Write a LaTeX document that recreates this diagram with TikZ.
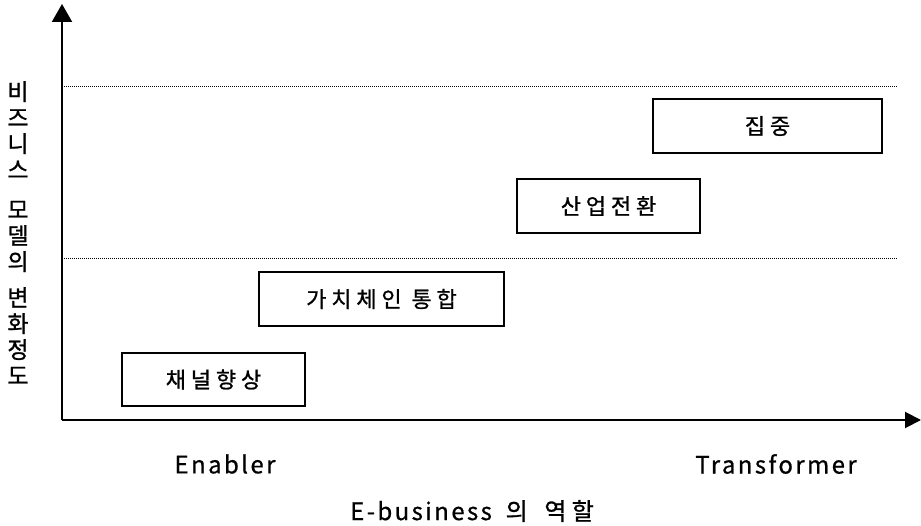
\documentclass[tikz,border=0pt]{standalone}
\usepackage{fontspec}
\usepackage{tikz}
\usetikzlibrary{arrows.meta}
\newfontfamily\kr[FakeBold=1]{Noto Sans CJK KR}
\newfontfamily\krsp[LetterSpace=22,FakeBold=1]{Noto Sans CJK KR}
\newfontfamily\lat[LetterSpace=10,FakeBold=0.6]{Noto Sans CJK KR}

\begin{document}
\begin{tikzpicture}[x=1pt, y=-1pt,
  axis/.style={line width=2pt},
  level/.style={line width=0.9pt, dash pattern=on 1pt off 1pt},
  stage/.style={draw, line width=1.8pt, inner sep=0pt, font=\krsp\fontsize{22}{26}\selectfont},
  axislabel/.style={font=\lat\fontsize{24}{28}\selectfont}]
  \useasboundingbox (0,0) rectangle (921,526);
  % axes
  \coordinate (o) at (62,420);
  \coordinate (ytop) at (62,4);
  \coordinate (xend) at (921,420);
  \draw[axis, -{Triangle[length=18pt,width=20pt]}] (o) -- (ytop);
  \draw[axis, -{Triangle[length=16pt,width=16pt]}] (o) -- (xend);
  % levels
  \coordinate (hi-l) at (64,86);
  \coordinate (hi-r) at (897,86);
  \coordinate (lo-l) at (64,258);
  \coordinate (lo-r) at (897,258);
  \draw[level] (hi-l) -- (hi-r);
  \draw[level] (lo-l) -- (lo-r);
  % stages
  \node[stage, minimum width=183pt, minimum height=53pt] (channel) at (213.5,379.5) {채널향상};
  \node[stage, minimum width=245pt, minimum height=54pt] (chain) at (381.5,299) {가치체인 통합};
  \node[stage, minimum width=183pt, minimum height=54pt] (industry) at (608.5,206) {산업전환};
  \node[stage, minimum width=229pt, minimum height=54pt] (focus) at (767.5,126) {집중};
  % labels
  \node[axislabel] (enabler) at (225,464) {Enabler};
  \node[axislabel] (transformer) at (776,464) {Transformer};
  \node[axislabel] (role) at (472,511) {E-business\hspace{6pt} {\krsp 의\hspace{6pt} 역할}};
  \node[anchor=north, align=center, inner sep=0pt, font=\kr\fontsize{23}{26}\selectfont] (degree) at (18,81)
    {비\\즈\\니\\스\\[14pt]모\\델\\의\\[10pt]변\\화\\정\\도};
\end{tikzpicture}
\end{document}
